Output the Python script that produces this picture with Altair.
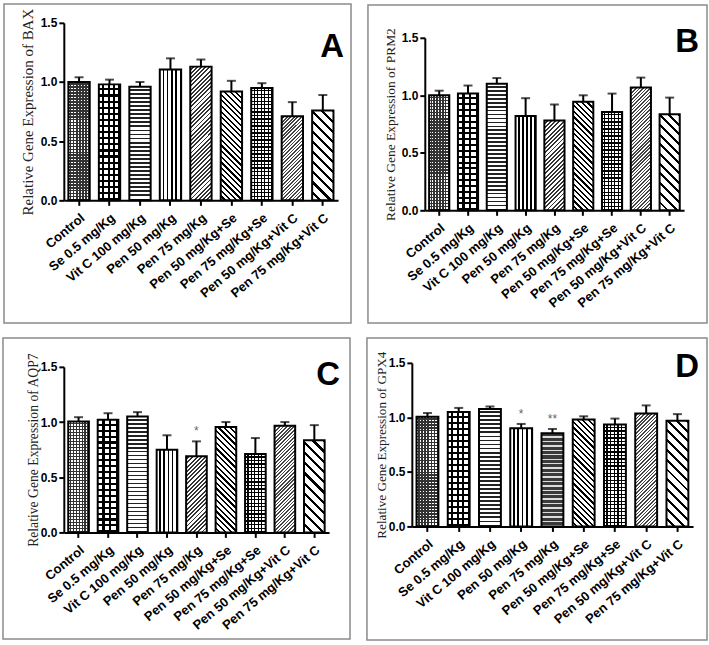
import math
import altair as alt
import pandas as pd

# ---------------- data ----------------
groups = ["Control", "Se 0.5 mg/Kg", "Vit C 100 mg/Kg", "Pen 50 mg/Kg", "Pen 75 mg/Kg",
          "Pen 50 mg/Kg+Se", "Pen 75 mg/Kg+Se", "Pen 50 mg/Kg+Vit C", "Pen 75 mg/Kg+Vit C"]

bax_mean = [1.00, 0.98, 0.96, 1.105, 1.13, 0.92, 0.95, 0.71, 0.76]
bax_upper = [1.04, 1.02, 1.00, 1.20, 1.19, 1.01, 0.99, 0.83, 0.89]
bax_star = ["", "", "", "", "", "", "", "", ""]

prm2_mean = [1.00, 1.015, 1.10, 0.82, 0.78, 0.945, 0.855, 1.067, 0.836]
prm2_upper = [1.04, 1.085, 1.15, 0.975, 0.92, 1.00, 1.015, 1.154, 0.98]
prm2_star = ["", "", "", "", "", "", "", "", ""]

aqp7_mean = [1.005, 1.02, 1.05, 0.75, 0.69, 0.955, 0.71, 0.966, 0.834]
aqp7_upper = [1.044, 1.08, 1.09, 0.88, 0.825, 1.00, 0.855, 1.00, 0.972]
aqp7_star = ["", "", "", "", "*", "", "", "", ""]

gpx4_mean = [1.007, 1.05, 1.077, 0.90, 0.854, 0.98, 0.934, 1.035, 0.97]
gpx4_upper = [1.04, 1.087, 1.10, 0.94, 0.894, 1.01, 0.989, 1.11, 1.03]
gpx4_star = ["", "", "", "*", "**", "", "", "", ""]

y_ticks = [0.0, 0.5, 1.0, 1.5]

# ---------------- styles ----------------
PI, PO = 0.3, 0.15
CLEAR = "rgba(255,255,255,0)"

patterns = [
    [("h", 3.0, 0.5, "#333"), ("v", 3.0, 0.5, "#333")],      # Control
    [("h", 6.0, 0.35, "#000"), ("v", 6.0, 0.35, "#000")],    # Se
    [("h", 4.0, 0.45, "#222")],                              # Vit C
    [("v", 4.0, 0.35, "#000")],                              # Pen 50
    [("/", 3.0, 0.45, "#333")],                              # Pen 75
    [("\\", 4.0, 0.4, "#000")],                              # Pen 50 + Se
    [("h", 3.5, 0.35, "#000"), ("v", 3.5, 0.35, "#000")],    # Pen 75 + Se
    [("/", 2.5, 0.45, "#444")],                              # Pen 50 + Vit C
    [("\\", 7.0, 0.3, "#000")],                              # Pen 75 + Vit C
]
brick = [("h", 3.0, 1.0, "#3a3a3a"), ("h", 4.5, 0.3, "#dddddd")]

# H: plot height (x axis position), top: pixel where 1.5 sits, box: (left, right, top, bottom) offsets
panels = [
    dict(letter="A", gene="BAX", mean=bax_mean, upper=bax_upper, star=bax_star,
         W=275, H=178, top=0, box=(60, 13, 19, 123), tsize=15, tpad=5, lx=6, ly=34),
    dict(letter="B", gene="PRM2", mean=prm2_mean, upper=prm2_upper, star=prm2_star,
         W=260, H=188, top=15, box=(57, 23, 18, 113), tsize=13.5, tpad=4, lx=15, ly=29),
    dict(letter="C", gene="AQP7", mean=aqp7_mean, upper=aqp7_upper, star=aqp7_star,
         W=266, H=170, top=4, box=(61, 21, 25, 107), tsize=13.7, tpad=0, lx=11, ly=22),
    dict(letter="D", gene="GPX4", mean=gpx4_mean, upper=gpx4_upper, star=gpx4_star,
         W=282, H=164, top=0, box=(45, 14, 25, 114), tsize=13.2, tpad=0, lx=6, ly=14),
]


def stripe_fill(kind, W, H, period, duty, color):
    if kind == "h":
        L, coords = H, dict(x1=0, y1=0, x2=0, y2=1)
    elif kind == "v":
        L, coords = W, dict(x1=0, y1=0, x2=1, y2=0)
    else:
        r = W / H
        b = (r + 1) / (r * r + 1)
        a = r * b
        L = (W + H) / math.sqrt(2)
        if kind == "/":
            coords = dict(x1=0, y1=0, x2=round(a, 4), y2=round(b, 4))
        else:
            coords = dict(x1=0, y1=1, x2=round(a, 4), y2=round(1 - b, 4))
    if duty >= 1.0:
        stops = [alt.GradientStop(color=color, offset=0), alt.GradientStop(color=color, offset=1)]
    else:
        n = max(1, int(round(L / period)))
        stops = []
        for k in range(n):
            o0 = round(k / n, 4)
            o1 = round((k + 1 - duty) / n, 4)
            o2 = round((k + 1) / n, 4)
            stops += [alt.GradientStop(color=CLEAR, offset=o0),
                      alt.GradientStop(color=CLEAR, offset=o1),
                      alt.GradientStop(color=color, offset=o1),
                      alt.GradientStop(color=color, offset=o2)]
    return alt.LinearGradient(gradient="linear", stops=stops, **coords)


def make_panel(p):
    df = pd.DataFrame({"group": groups, "mean": p["mean"], "upper": p["upper"], "star": p["star"]})
    W, H, top = p["W"], p["H"], p["top"]
    step = W / (len(groups) - PI + 2 * PO)
    bw = step * (1 - PI)

    x_enc = alt.X("group:N", sort=groups,
                  scale=alt.Scale(paddingInner=PI, paddingOuter=PO),
                  axis=alt.Axis(title=None, labelAngle=-40, labelFont="Liberation Sans",
                                labelFontWeight="bold", labelFontSize=13, labelColor="#000",
                                labelPadding=6, labelAlign="right", labelBaseline="top",
                                tickSize=5, tickWidth=2, tickColor="#000",
                                domainWidth=2, domainColor="#000", labelLimit=300))
    y_scale = alt.Scale(domain=[0, 1.5], nice=False, zero=True, range=[H, top])
    y_enc = alt.Y("mean:Q", scale=y_scale,
                  axis=alt.Axis(values=y_ticks, format=".1f", grid=False,
                                labelFont="Liberation Sans", labelFontWeight="bold",
                                labelFontSize=12, labelColor="#000", labelPadding=2,
                                tickSize=5, tickWidth=2, tickColor="#000",
                                domainWidth=2, domainColor="#000",
                                title="Relative Gene Expression of " + p["gene"],
                                titleFont="Liberation Serif", titleFontWeight="normal",
                                titleFontSize=p["tsize"], titleColor="#222",
                                titlePadding=p["tpad"]))

    base = alt.Chart(df).encode(x=x_enc, y=y_enc)
    layers = [base.mark_bar(fill="white")]

    plot_h = H - top
    for i, g in enumerate(groups):
        pat = patterns[i]
        if p["letter"] == "D" and i == 4:
            pat = brick
        bh = p["mean"][i] / 1.5 * plot_h
        for kind, period, duty, color in pat:
            layers.append(
                base.transform_filter(alt.datum.group == g)
                .mark_bar(fill=stripe_fill(kind, bw, bh, period, duty, color))
            )

    layers.append(base.mark_rule(color="#000", strokeWidth=2).encode(y2="upper:Q"))
    layers.append(base.mark_bar(fill="white", fillOpacity=0, stroke="#000", strokeWidth=2))
    layers.append(alt.Chart(df).mark_tick(color="#000", thickness=2, size=9)
                  .encode(x=alt.X("group:N", sort=groups), y=alt.Y("upper:Q")))
    layers.append(alt.Chart(df).mark_text(baseline="bottom", dy=-3, fontSize=12, color="#666",
                                          font="Liberation Sans")
                  .encode(x=alt.X("group:N", sort=groups), y=alt.Y("upper:Q"), text="star:N"))

    one = pd.DataFrame({"label": [p["letter"]]})
    layers.append(alt.Chart(one).mark_text(align="right", baseline="alphabetic", fontSize=33,
                                           fontWeight="bold", font="Liberation Sans", color="#000")
                  .encode(x=alt.value(W + p["lx"]), y=alt.value(p["ly"]), text="label:N"))
    l, r, t, b = p["box"]
    layers.append(alt.Chart(one).mark_rect(fill="white", fillOpacity=0, stroke="#8a8a8a",
                                           strokeWidth=1.5)
                  .encode(x=alt.value(-l), x2=alt.value(W + r), y=alt.value(-t), y2=alt.value(H + b)))

    return alt.layer(*layers).properties(width=W, height=H)


pa, pb, pc, pd_ = [make_panel(p) for p in panels]
chart = alt.vconcat(
    alt.hconcat(pa, pb, spacing=13),
    alt.hconcat(pc, pd_, spacing=13),
    spacing=11,
).properties(
    padding={"left": 1, "top": 1, "right": 0, "bottom": 0},
    background="white",
).configure_view(stroke="transparent")

chart.save("out.html", embed_options={"renderer": "svg", "actions": False})
